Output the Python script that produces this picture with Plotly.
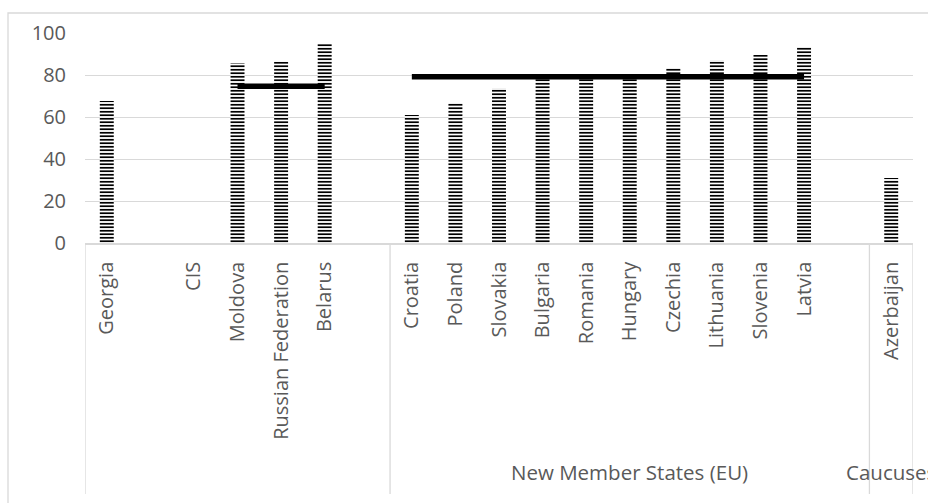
import plotly.graph_objects as go

# Country slots along the category axis (blank strings are empty slots)
categories = [
    "Georgia", "", "CIS", "Moldova", "Russian Federation", "Belarus", "",
    "Croatia", "Poland", "Slovakia", "Bulgaria", "Romania", "Hungary",
    "Czechia", "Lithuania", "Slovenia", "Latvia", "",
    "Azerbaijan",
]
scores = [
    67.6, None, None, 85.6, 86.3, 94.8, None,
    61.0, 66.5, 73.7, 78.3, 79.0, 79.0,
    83.3, 87.0, 89.5, 93.3, None,
    31.0,
]

# Outer category groups and how many slots each spans
group_names = ["", "New Member States (EU)", "Caucuses"]
group_sizes = [7, 11, 1]

# Group averages drawn as horizontal bars across member countries
cis_members = ["Moldova", "Russian Federation", "Belarus"]
cis_avg = 74.6
eu_members = ["Croatia", "Poland", "Slovakia", "Bulgaria", "Romania",
              "Hungary", "Czechia", "Lithuania", "Slovenia", "Latvia"]
eu_avg = 79.2

y_ticks = [0, 20, 40, 60, 80, 100]

W, H = 928, 503
M_L, M_R, M_T, M_B = 85, 15, 33, 260
PLOT_H = H - M_T - M_B

GRID = "#d9d9d9"
TXT = "#595959"
FONT = "Open Sans"

xs = list(range(len(categories)))
pos = {c: i for i, c in enumerate(categories) if c}


def paper_y(py):
    """Convert a pixel row of the page to paper y."""
    return (H - M_B - py) / PLOT_H


fig = go.Figure()

fig.add_trace(go.Bar(
    x=xs,
    y=scores,
    marker=dict(
        color="white",
        line=dict(width=0),
        pattern=dict(shape="-", size=3.5, solidity=0.5,
                     fgcolor="black", bgcolor="white", fillmode="replace"),
    ),
    showlegend=False,
    hoverinfo="skip",
))

fig.add_trace(go.Scatter(
    x=[pos[c] for c in cis_members],
    y=[cis_avg] * len(cis_members),
    mode="lines",
    line=dict(color="black", width=5.5),
    showlegend=False,
    hoverinfo="skip",
))

fig.add_trace(go.Scatter(
    x=[pos[c] for c in eu_members],
    y=[eu_avg] * len(eu_members),
    mode="lines",
    line=dict(color="black", width=5.5),
    showlegend=False,
    hoverinfo="skip",
))

# Group dividers below the axis and outer group labels
shapes = []
annotations = []
start = 0
bounds = [-0.5]
for name, size in zip(group_names, group_sizes):
    end = start + size
    bounds.append(end - 0.5)
    if name:
        annotations.append(dict(
            x=(start + end - 1) / 2, xref="x",
            y=paper_y(472), yref="paper",
            text=name, showarrow=False,
            font=dict(family=FONT, size=20.5, color=TXT),
            xanchor="center", yanchor="middle",
        ))
    start = end

for b in bounds:
    shapes.append(dict(
        type="line", xref="x", yref="paper",
        x0=b, x1=b, y0=0, y1=paper_y(494),
        line=dict(color=GRID, width=1.3),
    ))

# Outer chart frame
shapes.append(dict(
    type="rect", xref="paper", yref="paper",
    x0=(8 - M_L) / (W - M_L - M_R), x1=(W + 5 - M_L) / (W - M_L - M_R),
    y0=paper_y(H + 5), y1=paper_y(13),
    line=dict(color=GRID, width=1.3),
    fillcolor="rgba(0,0,0,0)",
    layer="below",
))

fig.update_layout(
    width=W, height=H,
    margin=dict(l=M_L, r=M_R, t=M_T, b=M_B),
    paper_bgcolor="white",
    plot_bgcolor="white",
    bargap=0.68,
    shapes=shapes,
    annotations=annotations,
    font=dict(family=FONT, size=20, color=TXT),
)

fig.update_xaxes(
    range=[-0.5, len(categories) - 0.5],
    tickmode="array",
    tickvals=xs,
    ticktext=categories,
    tickangle=-90,
    ticks="",
    ticklabelstandoff=9,
    showgrid=False,
    showline=True,
    linecolor=GRID,
    linewidth=1.5,
    zeroline=False,
    tickfont=dict(family=FONT, size=20, color=TXT),
    fixedrange=True,
)

fig.update_yaxes(
    range=[0, 100],
    tickmode="array",
    tickvals=y_ticks,
    ticks="",
    ticklabelstandoff=18,
    showgrid=True,
    gridcolor=GRID,
    gridwidth=1.3,
    zeroline=False,
    showline=False,
    tickfont=dict(family=FONT, size=20, color=TXT),
    fixedrange=True,
)

fig.write_html("out.html")
